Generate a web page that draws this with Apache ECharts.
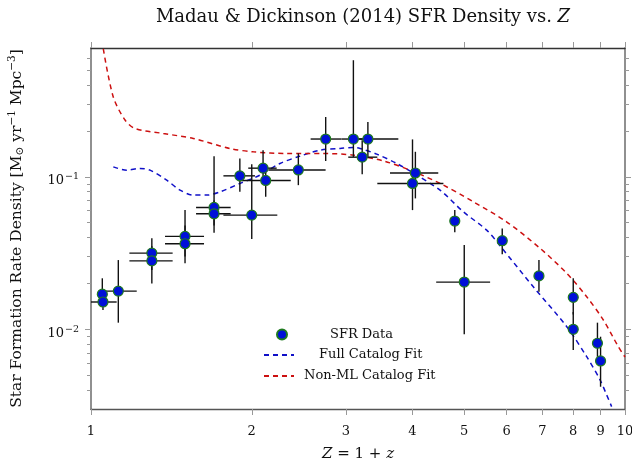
<!DOCTYPE html>
<html>
<head>
<meta charset="utf-8">
<script src="https://cdn.jsdelivr.net/npm/echarts@6/dist/echarts.min.js"></script>
<style>html,body{margin:0;padding:0;background:#fff}#c{width:632px;height:462px}</style>
</head>
<body>
<div id="c"></div>
<script>
// ---- data ----
const zValues   = [1.050, 1.053, 1.125, 1.30, 1.30, 1.50, 1.50, 1.70, 1.70, 1.90, 2.00, 2.10, 2.124, 2.445, 2.751, 3.10, 3.30, 3.22, 4.05, 4.00, 4.80, 5.00, 5.89, 6.90, 8.00, 8.00, 8.88, 9.00];
const sfrValues = [0.0170, 0.0151, 0.0178, 0.0316, 0.0281, 0.0407, 0.0364, 0.0630, 0.0572, 0.1015, 0.0561, 0.1140, 0.0947, 0.1110, 0.1770, 0.1770, 0.1770, 0.1346, 0.1060, 0.0905, 0.0513, 0.0204, 0.0381, 0.0224, 0.0162, 0.0100, 0.0081, 0.0062];
const zLow      = [1.050, 0.990, 1.055, 1.18, 1.18, 1.376, 1.376, 1.573, 1.573, 1.77, 1.77, 1.97, 1.887, 2.148, 2.578, 2.95, 3.10, 3.032, 3.63, 3.437, 4.80, 4.43, 5.89, 6.90, 8.00, 8.00, 8.88, 9.00];
const zHigh     = [1.050, 1.117, 1.218, 1.422, 1.422, 1.628, 1.628, 1.826, 1.826, 2.028, 2.233, 2.227, 2.366, 2.75, 2.948, 3.25, 3.763, 3.437, 4.47, 4.57, 4.80, 5.59, 5.89, 6.90, 8.00, 8.00, 8.88, 9.00];
const sfrLow    = [0.0140, 0.0134, 0.01105, 0.0245, 0.0200, 0.0300, 0.0271, 0.0480, 0.0430, 0.0797, 0.0391, 0.0952, 0.0740, 0.0882, 0.1270, 0.1350, 0.1352, 0.1040, 0.0722, 0.0605, 0.0433, 0.00927, 0.0311, 0.01764, 0.0125, 0.00731, 0.0066, 0.0042];
const sfrHigh   = [0.0216, 0.0175, 0.02845, 0.0395, 0.0350, 0.0605, 0.0480, 0.1367, 0.0700, 0.1320, 0.1211, 0.1496, 0.1078, 0.1423, 0.2470, 0.5820, 0.2290, 0.1740, 0.1460, 0.1760, 0.0605, 0.0357, 0.0459, 0.02845, 0.0216, 0.0130, 0.01105, 0.00894];

const fullFitZ   = [1.101, 1.166, 1.235, 1.290, 1.386, 1.468, 1.554, 1.647, 1.744, 1.901, 2.073, 2.259, 2.463, 2.685, 2.927, 3.099, 3.19, 3.428, 3.737, 4.073, 4.505, 4.98, 5.508, 5.833, 6.734, 7.78, 8.478, 8.98, 9.24, 9.44];
const fullFitSFR = [0.1163, 0.1106, 0.1135, 0.1106, 0.0951, 0.0818, 0.0759, 0.0759, 0.0797, 0.0905, 0.1026, 0.1224, 0.1367, 0.1496, 0.1535, 0.1559, 0.1535, 0.1409, 0.1224, 0.1026, 0.0818, 0.0590, 0.0447, 0.0353, 0.0190, 0.0104, 0.00661, 0.00466, 0.00371, 0.00311];

const nonMLFitZ   = [1.0545, 1.1008, 1.158, 1.209, 1.366, 1.554, 1.820, 2.014, 2.326, 2.723, 3.099, 3.527, 3.957, 4.505, 5.20, 6.00, 6.932, 7.78, 8.478, 9.108, 9.716, 10.0];
const nonMLFitSFR = [0.690, 0.334, 0.236, 0.2076, 0.1925, 0.1785, 0.1535, 0.1458, 0.1423, 0.1423, 0.1388, 0.1273, 0.1106, 0.0905, 0.0686, 0.0507, 0.0340, 0.02328, 0.01635, 0.01151, 0.00769, 0.00658];

const xTickValues = [1, 2, 3, 4, 5, 6, 7, 8, 9, 10];
const yMajorTicks = [0.01, 0.1];
const yMinorTicks = [0.004, 0.005, 0.006, 0.007, 0.008, 0.009, 0.02, 0.03, 0.04, 0.05, 0.06, 0.07, 0.08, 0.09, 0.2, 0.3, 0.4, 0.5, 0.6];

// ---- chart ----
const FONT = 'DejaVu Serif';
const chart = echarts.init(document.getElementById('c'), null, {renderer: 'canvas'});

const pts = zValues.map((z, i) => [z, sfrValues[i]]);
const errData = zValues.map((z, i) => [z, sfrValues[i], zLow[i], zHigh[i], sfrLow[i], sfrHigh[i]]);
const fullFit = fullFitZ.map((z, i) => [z, fullFitSFR[i]]);
const nonMLFit = nonMLFitZ.map((z, i) => [z, nonMLFitSFR[i]]);

function yAxisDef(pos, ticks, len, labels) {
  return {
    type: 'log', logBase: 10, min: 0.003, max: 0.7, position: pos,
    axisLine: {show: true, lineStyle: {color: '#888', width: 1.5}},
    axisTick: {show: true, inside: false, length: len, customValues: ticks, lineStyle: {color: '#999', width: 1}},
    axisLabel: labels ? {
      show: true, customValues: ticks, margin: 12, color: '#111', fontFamily: FONT, fontSize: 13,
      formatter: v => '{b|10}{s|−' + Math.round(-Math.log10(v)) + '}',
      rich: {
        b: {fontSize: 13, fontFamily: FONT, color: '#111', padding: [8, 0, 0, 0]},
        s: {fontSize: 9.5, fontFamily: FONT, color: '#111', padding: [0, 0, 0, 1]}
      }
    } : {show: false},
    splitLine: {show: false}, minorTick: {show: false}, minorSplitLine: {show: false}
  };
}

const legendText = pad => ({fontFamily: FONT, fontSize: 13, color: '#111', padding: [0, 0, 0, pad]});

const option = {
  animation: false,
  backgroundColor: '#fff',
  title: {
    text: 'Madau & Dickinson (2014) SFR Density vs. {i|Z}',
    left: 358, top: 3, textAlign: 'center',
    textStyle: {fontFamily: FONT, fontSize: 18, fontWeight: 'normal', color: '#111',
      rich: {i: {fontFamily: FONT, fontSize: 18, fontStyle: 'italic', color: '#111'}}}
  },
  grid: {left: 91, right: 7, top: 48, bottom: 53, outerBoundsMode: 'none', containLabel: false},
  legend: [
    {data: ['SFR Data'], left: 276, top: 328, itemWidth: 30, itemHeight: 10, padding: 0,
     textStyle: legendText(28)},
    {data: [{name: 'Full Catalog Fit', itemStyle: {opacity: 0}}], left: 263, top: 348.5, itemWidth: 30, itemHeight: 10, padding: 0,
     textStyle: legendText(20)},
    {data: [{name: 'Non-ML Catalog Fit', itemStyle: {opacity: 0}}], left: 263, top: 369.5, itemWidth: 30, itemHeight: 10, padding: 0,
     textStyle: legendText(5)}
  ],
  xAxis: [
    {
      type: 'log', logBase: 10, min: 1, max: 10, position: 'bottom',
      name: '{i|Z} = 1 + {i|z}', nameLocation: 'middle', nameGap: 38,
      nameTextStyle: {fontFamily: FONT, fontSize: 15, color: '#111',
        rich: {i: {fontFamily: FONT, fontSize: 15, fontStyle: 'italic', color: '#111'}}},
      axisLine: {show: true, lineStyle: {color: '#555', width: 1.3}},
      axisTick: {show: true, inside: false, length: 6, customValues: xTickValues, lineStyle: {color: '#999', width: 1}},
      axisLabel: {show: true, customValues: xTickValues, margin: 16, color: '#111', fontFamily: FONT, fontSize: 13,
        formatter: v => String(Math.round(v))},
      splitLine: {show: false}, minorTick: {show: false}
    },
    {
      type: 'log', logBase: 10, min: 1, max: 10, position: 'top',
      axisLine: {show: true, lineStyle: {color: '#333', width: 1.3}},
      axisTick: {show: true, inside: false, length: 6, customValues: xTickValues, lineStyle: {color: '#999', width: 1}},
      axisLabel: {show: false}, splitLine: {show: false}, minorTick: {show: false}
    }
  ],
  yAxis: [
    Object.assign(yAxisDef('left', yMajorTicks, 6, true), {
      name: 'Star Formation Rate Density [M{sb|⊙} yr{s|−1} Mpc{s|−3}]',
      nameLocation: 'middle', nameGap: 64, nameRotate: 90,
      nameTextStyle: {fontFamily: FONT, fontSize: 15.5, color: '#111',
        rich: {
          s: {fontFamily: FONT, fontSize: 10.5, color: '#111', padding: [0, 0, 9, 0]},
          sb: {fontFamily: FONT, fontSize: 10.5, color: '#111', padding: [6, 0, 0, 0]}
        }}
    }),
    yAxisDef('left', yMinorTicks, 4, false),
    yAxisDef('right', yMajorTicks, 6, false),
    yAxisDef('right', yMinorTicks, 4, false)
  ],
  series: [
    {
      name: 'Full Catalog Fit', type: 'line', data: fullFit, xAxisIndex: 0, yAxisIndex: 0,
      showSymbol: false, symbol: 'none', smooth: 0.3, clip: true, z: 2,
      lineStyle: {color: '#1010c8', width: 1.5, type: [5, 4]},
      itemStyle: {color: '#1010c8'}
    },
    {
      name: 'Non-ML Catalog Fit', type: 'line', data: nonMLFit, xAxisIndex: 0, yAxisIndex: 0,
      showSymbol: false, symbol: 'none', smooth: 0.3, clip: true, z: 2,
      lineStyle: {color: '#cc1010', width: 1.5, type: [5, 4]},
      itemStyle: {color: '#cc1010'}
    },
    {
      name: 'errors', type: 'custom', data: errData, xAxisIndex: 0, yAxisIndex: 0, clip: true, z: 3,
      encode: {x: 0, y: 1},
      renderItem: function (params, api) {
        const x = api.value(0), y = api.value(1);
        const a = api.coord([api.value(2), y]), b = api.coord([api.value(3), y]);
        const c = api.coord([x, api.value(4)]), d = api.coord([x, api.value(5)]);
        const st = {stroke: '#111', lineWidth: 1.4};
        return {type: 'group', children: [
          {type: 'line', shape: {x1: a[0], y1: a[1], x2: b[0], y2: b[1]}, style: st},
          {type: 'line', shape: {x1: c[0], y1: c[1], x2: d[0], y2: d[1]}, style: st}
        ]};
      }
    },
    {
      name: 'SFR Data', type: 'scatter', data: pts, xAxisIndex: 0, yAxisIndex: 0, z: 5,
      symbol: 'circle', symbolSize: 10,
      itemStyle: {color: '#0010d8', borderColor: '#1f7a1f', borderWidth: 1.2, opacity: 1}
    }
  ]
};
chart.setOption(option);
</script>
</body>
</html>
